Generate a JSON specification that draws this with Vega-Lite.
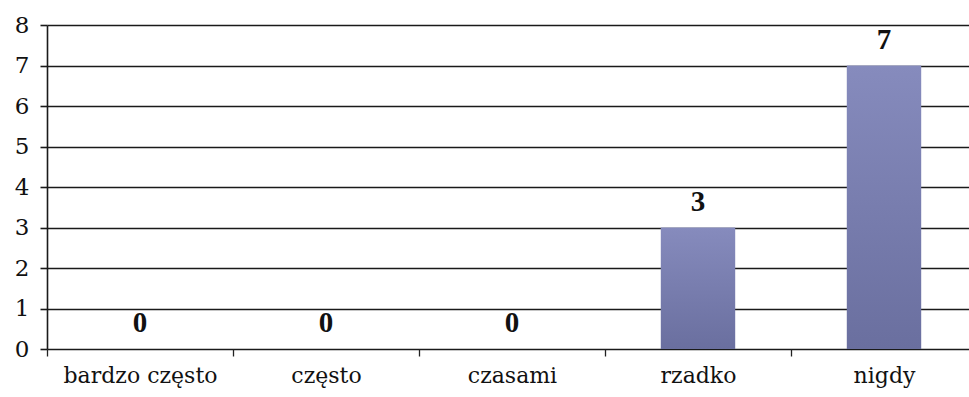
{
  "$schema": "https://vega.github.io/schema/vega-lite/v6.json",
  "autosize": "none",
  "width": 922,
  "height": 324,
  "padding": {"left": 47, "top": 25, "right": 0, "bottom": 48},
  "background": "white",
  "config": {"view": {"stroke": null}},
  "data": {"values": [
    {"kategoria": "bardzo często", "liczba": 0},
    {"kategoria": "często", "liczba": 0},
    {"kategoria": "czasami", "liczba": 0},
    {"kategoria": "rzadko", "liczba": 3},
    {"kategoria": "nigdy", "liczba": 7}
  ]},
  "encoding": {
    "x": {"field": "kategoria", "type": "nominal", "sort": null,
      "scale": {"paddingInner": 0, "paddingOuter": 0, "range": [0, 930]},
      "axis": {"title": null, "labelAngle": 0, "tickBand": "extent", "domain": false,
        "tickColor": "#222", "tickSize": 7, "tickWidth": 1.3, "labelPadding": 9,
        "labelFont": "DejaVu Serif", "labelFontSize": 22, "labelColor": "#111"}},
    "y": {"field": "liczba", "type": "quantitative",
      "scale": {"domain": [0, 8]},
      "axis": {"title": null, "values": [0,1,2,3,4,5,6,7,8], "grid": true, "gridColor": "#1a1a1a", "gridWidth": 1.6,
        "domain": true, "domainColor": "#1a1a1a", "domainWidth": 1.6,
        "tickColor": "#1a1a1a", "tickSize": 7, "tickWidth": 1.6, "labelPadding": 11,
        "labelFont": "DejaVu Serif", "labelFontSize": 23, "labelColor": "#111"}}
  },
  "layer": [
    {"mark": {"type": "bar", "width": {"band": 0.4}, "color": {"gradient": "linear", "x1": 0, "y1": 0, "x2": 0, "y2": 1,
      "stops": [{"offset": 0, "color": "#868bbd"}, {"offset": 1, "color": "#6a6f9f"}]}}},
    {"mark": {"type": "text", "baseline": "alphabetic", "dy": -17, "font": "Liberation Serif", "fontWeight": "bold", "fontSize": 29, "color": "#111"},
     "encoding": {"text": {"field": "liczba", "type": "quantitative"}}}
  ]
}
